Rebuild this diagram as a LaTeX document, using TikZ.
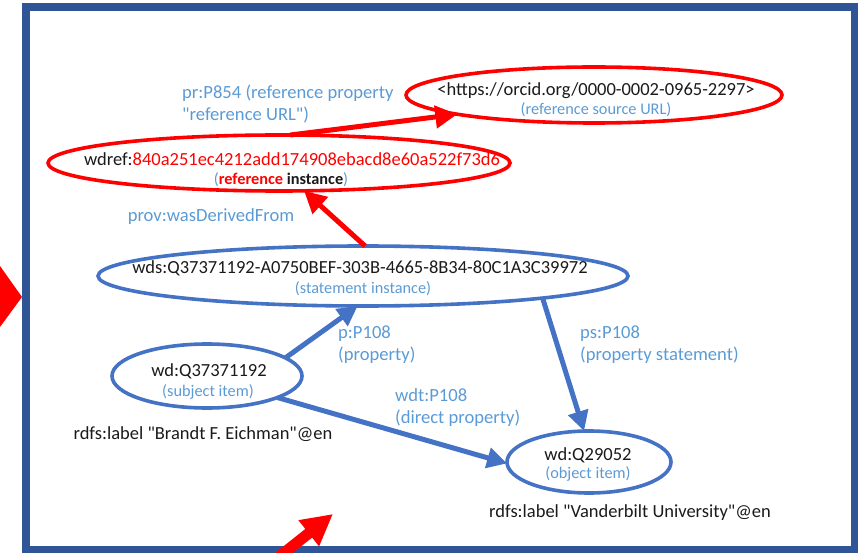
\documentclass[tikz,border=0pt]{standalone}
\usepackage{fontspec}
% a plain family without TeX ligatures keeps the straight double quotes
\newfontfamily\carl{Carlito}
\setmainfont{Carlito}
\usetikzlibrary{shapes.geometric,arrows.meta}
\definecolor{framebl}{RGB}{47,85,151}
\definecolor{ellblue}{RGB}{68,114,196}
\definecolor{lblue}{RGB}{91,155,213}
\definecolor{refred}{RGB}{255,0,0}
\definecolor{txtblack}{RGB}{26,26,26}
\begin{document}
\begin{tikzpicture}[x=1pt,y=-1pt,
  ell/.style={ellipse, line width=3.6pt, inner sep=0pt, outer sep=0pt},
  redell/.style={ell, draw=refred},
  blueell/.style={ell, draw=ellblue},
  maintxt/.style={font=\carl\fontsize{18.5}{21}\selectfont, text=txtblack, inner sep=0pt},
  subtxt/.style={font=\carl\fontsize{16.3}{18}\selectfont, text=lblue, inner sep=0pt},
  edgetxt/.style={font=\carl\fontsize{18.6}{22}\selectfont, text=lblue, align=left, inner sep=0pt, anchor=west},
  redarrow/.style={draw=refred, line width=5pt, -{Triangle[length=22pt,width=22pt]}},
  bluearrow/.style={draw=ellblue, line width=5pt, -{Triangle[length=20pt,width=20pt]}},
]
\useasboundingbox (0,0) rectangle (858,553);

% slide frame
\draw[framebl, line width=8pt] (26,7.5) rectangle (855,549.5);

% ellipses
\node[redell, minimum width=376pt, minimum height=56pt] (orcid) at (594,95) {};
\node[redell, minimum width=462pt, minimum height=56pt] (ref) at (279,163) {};
\node[blueell, minimum width=530pt, minimum height=60pt] (stmt) at (363,276) {};
\node[blueell, minimum width=190pt, minimum height=64pt] (subj) at (207,376) {};
\node[blueell, minimum width=164pt, minimum height=62pt] (obj) at (589,462) {};

% texts inside the ellipses
\node[maintxt] (orcidt) at (596,91) {<https://orcid.org/0000-0002-0965-2297>};
\node[subtxt] (orcids) at (596,110) {(reference source URL)};
\node[maintxt] (reft) at (292,159) {wdref:\textcolor{refred}{840a251ec4212add174908ebacd8e60a522f73d6}};
\node[subtxt] (refs) at (281,180) {(\textcolor{refred}{\bfseries reference} \textcolor{txtblack}{\bfseries instance})};
\node[maintxt] (stmtt) at (360,268) {wds:Q37371192-A0750BEF-303B-4665-8B34-80C1A3C39972};
\node[subtxt] (stmts) at (363,289) {(statement instance)};
\node[maintxt] (subjt) at (209,371) {wd:Q37371192};
\node[subtxt] (subjs) at (208,392) {(subject item)};
\node[maintxt] (objt) at (588,455) {wd:Q29052};
\node[subtxt] (objs) at (588,474) {(object item)};

% literal labels
\node[maintxt] (subjlab) at (203,434) {rdfs:label "Brandt F. Eichman"@en};
\node[maintxt] (objlab) at (630,513) {rdfs:label "Vanderbilt University"@en};

% connectors
\draw[redarrow] (ref.68) -- (orcid.188);
\draw[redarrow] (stmt.86) -- (ref.312);
\draw[bluearrow] (subj.13) -- (stmt.260);
\draw[bluearrow] (stmt.353) -- (obj.99);
\draw[bluearrow] (subj.343) -- (obj.181);

% connector labels
\node[edgetxt] (l854) at (182,103.5) {pr:P854 (reference property\\"reference URL")};
\node[edgetxt, anchor=center] (lprov) at (211,217) {prov:wasDerivedFrom};
\node[edgetxt] (lp) at (338,345) {p:P108\\(property)};
\node[edgetxt] (lps) at (580,345) {ps:P108\\(property statement)};
\node[edgetxt] (lwdt) at (395,408) {wdt:P108\\(direct property)};

% red pointers at the frame
\fill[refred] (0,266) -- (22,297) -- (0,327) -- cycle;
\draw[refred, line width=11pt, -{Triangle[length=31pt,width=31pt]}] (275,560) -- (333,514);
\end{tikzpicture}
\end{document}
